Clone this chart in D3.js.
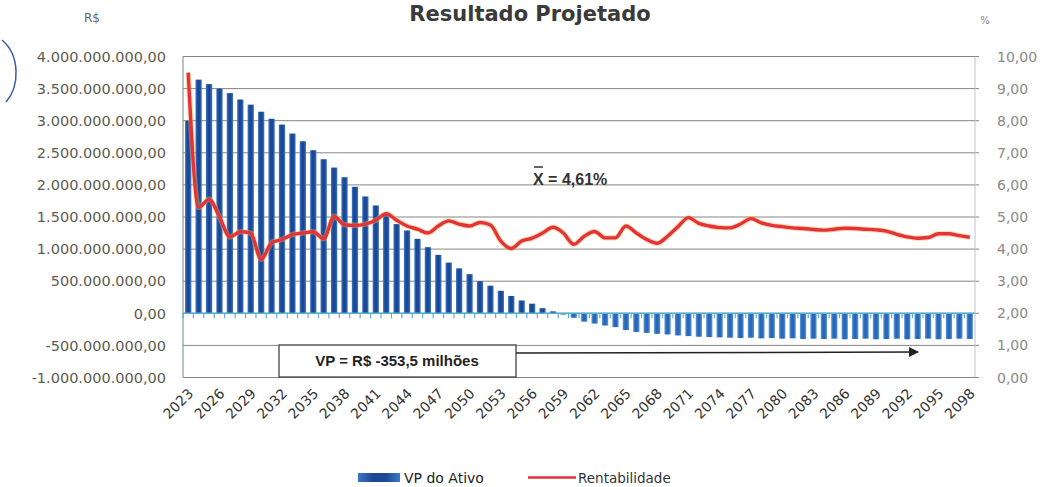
<!DOCTYPE html>
<html>
<head>
<meta charset="utf-8">
<script src="https://cdn.jsdelivr.net/npm/d3@7"></script>
<style>
  body { margin: 0; background: #fff; }
  svg { display: block; }
</style>
</head>
<body>
<svg id="chart" width="1048" height="487"></svg>
<script>
// Anos da projeção
const anos = [
  2023, 2024, 2025, 2026, 2027, 2028, 2029, 2030, 2031, 2032,
  2033, 2034, 2035, 2036, 2037, 2038, 2039, 2040, 2041, 2042,
  2043, 2044, 2045, 2046, 2047, 2048, 2049, 2050, 2051, 2052,
  2053, 2054, 2055, 2056, 2057, 2058, 2059, 2060, 2061, 2062,
  2063, 2064, 2065, 2066, 2067, 2068, 2069, 2070, 2071, 2072,
  2073, 2074, 2075, 2076, 2077, 2078, 2079, 2080, 2081, 2082,
  2083, 2084, 2085, 2086, 2087, 2088, 2089, 2090, 2091, 2092,
  2093, 2094, 2095, 2096, 2097, 2098
];

// VP do Ativo, em milhões de R$
const vpAtivoMilhoes = [
  3000, 3640, 3570, 3500, 3430, 3330, 3250, 3140, 3030, 2940,
  2800, 2680, 2540, 2400, 2270, 2120, 1970, 1820, 1680, 1530,
  1390, 1290, 1160, 1030, 910, 790, 700, 610, 500, 430,
  350, 270, 200, 150, 80, 30, -20, -70, -130, -160,
  -190, -215, -260, -290, -305, -320, -330, -345, -355, -365,
  -370, -375, -380, -385, -380, -390, -385, -395, -390, -400,
  -395, -400, -395, -405, -400, -395, -405, -400, -395, -405,
  -400, -395, -405, -400, -395, -400
];

// Rentabilidade anual, em %
const rentabilidade = [
  9.50, 5.30, 5.55, 5.00, 4.38, 4.54, 4.50, 3.68, 4.20, 4.30,
  4.45, 4.50, 4.54, 4.32, 5.02, 4.76, 4.74, 4.78, 4.90, 5.10,
  4.90, 4.72, 4.62, 4.50, 4.72, 4.88, 4.78, 4.72, 4.83, 4.75,
  4.25, 4.02, 4.25, 4.34, 4.50, 4.68, 4.50, 4.15, 4.40, 4.55,
  4.35, 4.35, 4.72, 4.50, 4.30, 4.18, 4.40, 4.70, 4.98, 4.80,
  4.72, 4.67, 4.66, 4.78, 4.95, 4.82, 4.74, 4.70, 4.66, 4.64,
  4.61, 4.59, 4.62, 4.65, 4.64, 4.62, 4.60, 4.56, 4.46, 4.38,
  4.34, 4.36, 4.48, 4.48, 4.42, 4.37
];

// Marcas dos eixos
const ticksReais = [-1e9, -5e8, 0, 5e8, 1e9, 1.5e9, 2e9, 2.5e9, 3e9, 3.5e9, 4e9];
const ticksPercentual = [0, 1, 2, 3, 4, 5, 6, 7, 8, 9, 10];
const anosRotulados = [
  2023, 2026, 2029, 2032, 2035, 2038, 2041, 2044, 2047, 2050, 2053, 2056, 2059,
  2062, 2065, 2068, 2071, 2074, 2077, 2080, 2083, 2086, 2089, 2092, 2095, 2098
];

const mediaTexto = "4,61%";
const vpTexto = "VP = R$ -353,5 milhões";

// ---------------------------------------------------------------
const svg = d3.select("#chart");
const plot = { left: 183, right: 975, top: 56.5, bottom: 377.5 };

const ptBR = d3.formatLocale({
  decimal: ",", thousands: ".", grouping: [3], currency: ["R$ ", ""], minus: "-"
});
const fmt = ptBR.format(",.2f");

const x = d3.scaleBand(anos, [plot.left, plot.right]).paddingInner(0.4).paddingOuter(0.2);
const yL = d3.scaleLinear([-1e9, 4e9], [plot.bottom, plot.top]);
const yR = d3.scaleLinear([0, 10], [plot.bottom, plot.top]);
const bw = x.bandwidth();
const cx = a => x(a) + bw / 2;

// Gradientes das barras
const defs = svg.append("defs");
function grad(id, edge, mid) {
  const g = defs.append("linearGradient").attr("id", id).attr("x1", "0").attr("x2", "1").attr("y1", "0").attr("y2", "0");
  g.append("stop").attr("offset", "0%").attr("stop-color", edge);
  g.append("stop").attr("offset", "35%").attr("stop-color", mid);
  g.append("stop").attr("offset", "65%").attr("stop-color", mid);
  g.append("stop").attr("offset", "100%").attr("stop-color", edge);
}
grad("barPos", "#3a78c6", "#1c4794");
grad("barNeg", "#5a9ad8", "#2a66b8");

defs.append("marker").attr("id", "seta")
  .attr("viewBox", "0 0 10 10").attr("refX", 9).attr("refY", 5)
  .attr("markerWidth", 7).attr("markerHeight", 7).attr("orient", "auto")
  .append("path").attr("d", "M0,0 L10,5 L0,10 Z").attr("fill", "#222");

// Título
svg.append("text").attr("x", 530).attr("y", 21).attr("text-anchor", "middle")
  .attr("font-family", "DejaVu Sans").attr("font-weight", "bold").attr("font-size", 21)
  .attr("fill", "#3a3a3a").text("Resultado Projetado");

// Linhas de grade
svg.append("g").selectAll("line").data(ticksReais).join("line")
  .attr("x1", plot.left).attr("x2", plot.right + 4)
  .attr("y1", d => yL(d)).attr("y2", d => yL(d))
  .attr("stroke", "#858585").attr("stroke-width", 1);

// Bordas verticais da área de plotagem
svg.append("line").attr("x1", plot.left).attr("x2", plot.left).attr("y1", plot.top).attr("y2", plot.bottom)
  .attr("stroke", "#8a9a9a").attr("stroke-width", 1.2);
svg.append("line").attr("x1", plot.right).attr("x2", plot.right).attr("y1", plot.top).attr("y2", plot.bottom)
  .attr("stroke", "#c4c4c4").attr("stroke-width", 1);

// Barras
svg.append("g").selectAll("rect").data(anos).join("rect")
  .attr("x", a => x(a))
  .attr("width", bw)
  .attr("y", (a, i) => Math.min(yL(vpAtivoMilhoes[i] * 1e6), yL(0)))
  .attr("height", (a, i) => Math.abs(yL(vpAtivoMilhoes[i] * 1e6) - yL(0)))
  .attr("fill", (a, i) => vpAtivoMilhoes[i] >= 0 ? "url(#barPos)" : "url(#barNeg)");

// Eixo das categorias em zero
const y0 = yL(0);
svg.append("line").attr("x1", plot.left).attr("x2", plot.right).attr("y1", y0).attr("y2", y0)
  .attr("stroke", "#5aaed0").attr("stroke-width", 1.5);
svg.append("g").selectAll("line").data(anos).join("line")
  .attr("x1", a => x(a) - x.step() * 0.2).attr("x2", a => x(a) - x.step() * 0.2)
  .attr("y1", y0).attr("y2", y0 + 5)
  .attr("stroke", "#5aaed0").attr("stroke-width", 1.2);

// Linha de rentabilidade
const linha = d3.line().x((d, i) => cx(anos[i])).y(d => yR(d)).curve(d3.curveMonotoneX);
svg.append("path").datum(rentabilidade).attr("d", linha)
  .attr("fill", "none").attr("stroke", "#f2b14a").attr("stroke-width", 5.5)
  .attr("stroke-opacity", 0.45).attr("stroke-linejoin", "round");
svg.append("path").datum(rentabilidade).attr("d", linha)
  .attr("fill", "none").attr("stroke", "#e4323b").attr("stroke-width", 3.4)
  .attr("stroke-linejoin", "round");

// Eixo esquerdo (R$)
svg.append("g").selectAll("text").data(ticksReais).join("text")
  .attr("x", 166).attr("y", d => yL(d)).attr("dy", "0.36em").attr("text-anchor", "end")
  .attr("font-family", "DejaVu Sans").attr("font-size", 14.5).attr("fill", "#5c5c52")
  .text(d => fmt(d));
svg.append("text").attr("x", 92).attr("y", 22).attr("text-anchor", "middle")
  .attr("font-family", "DejaVu Sans").attr("font-size", 12).attr("fill", "#666").text("R$");

// Eixo direito (%)
svg.append("g").selectAll("text").data(ticksPercentual).join("text")
  .attr("x", 997).attr("y", d => yR(d)).attr("dy", "0.36em").attr("text-anchor", "start")
  .attr("font-family", "DejaVu Sans").attr("font-size", 14).attr("fill", "#8a8a86")
  .text(d => fmt(d));
svg.append("text").attr("x", 985).attr("y", 24).attr("text-anchor", "middle")
  .attr("font-family", "DejaVu Sans").attr("font-size", 10).attr("fill", "#888").text("%");

// Rótulos dos anos
svg.append("g").selectAll("text").data(anosRotulados).join("text")
  .attr("transform", a => `translate(${cx(a) + 6},${plot.bottom + 17}) rotate(-45)`)
  .attr("text-anchor", "end")
  .attr("font-family", "DejaVu Sans").attr("font-size", 14).attr("fill", "#333")
  .text(a => a);

// Média
svg.append("text").attr("x", 533).attr("y", 185)
  .attr("font-family", "Liberation Sans").attr("font-weight", "bold").attr("font-size", 16)
  .attr("fill", "#333").text("X = " + mediaTexto);
svg.append("line").attr("x1", 534).attr("x2", 543).attr("y1", 167).attr("y2", 167)
  .attr("stroke", "#333").attr("stroke-width", 1.5);

// Caixa do VP e seta
svg.append("rect").attr("x", 279).attr("y", 345).attr("width", 237).attr("height", 32)
  .attr("fill", "#fff").attr("stroke", "#444").attr("stroke-width", 1.3);
svg.append("text").attr("x", 397).attr("y", 366).attr("text-anchor", "middle")
  .attr("font-family", "Liberation Sans").attr("font-weight", "bold").attr("font-size", 15)
  .attr("fill", "#222").text(vpTexto);
svg.append("line").attr("x1", 516).attr("x2", 918).attr("y1", 353).attr("y2", 352)
  .attr("stroke", "#222").attr("stroke-width", 1.5).attr("marker-end", "url(#seta)");

// Legenda
svg.append("rect").attr("x", 358).attr("y", 473).attr("width", 42).attr("height", 9).attr("fill", "url(#barPos)");
svg.append("text").attr("x", 404).attr("y", 483)
  .attr("font-family", "DejaVu Sans").attr("font-size", 14).attr("fill", "#222").text("VP do Ativo");
svg.append("line").attr("x1", 528).attr("x2", 576).attr("y1", 477.5).attr("y2", 477.5)
  .attr("stroke", "#e4323b").attr("stroke-width", 2.5);
svg.append("text").attr("x", 578).attr("y", 483)
  .attr("font-family", "DejaVu Sans").attr("font-size", 13.5).attr("fill", "#333").text("Rentabilidade");

// Traço de caneta na margem
svg.append("path").attr("d", "M2,40 C20,55 20,86 6,102")
  .attr("fill", "none").attr("stroke", "#3b5ba9").attr("stroke-width", 1.5);
</script>
</body>
</html>
